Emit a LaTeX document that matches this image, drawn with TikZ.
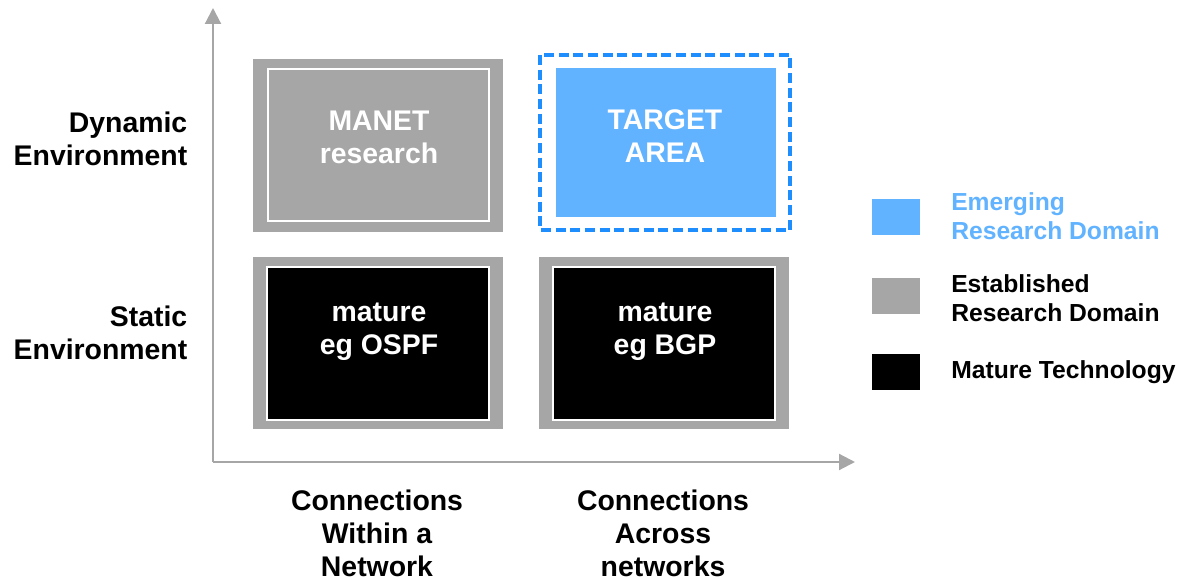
\documentclass[tikz,border=0pt]{standalone}
\usepackage{fontspec}
\setmainfont{Liberation Sans}
\usetikzlibrary{arrows.meta}
\definecolor{axisgray}{HTML}{A6A6A6}
\definecolor{emerge}{HTML}{61B3FF}
\definecolor{dashblue}{HTML}{1E8EFF}
\tikzset{
  axisline/.style={draw=axisgray, line width=1.6pt, -{Triangle[length=12pt, width=12pt]}},
  cellframe/.style={fill=axisgray, draw=none},
  cellinner/.style={draw=white, line width=1.4pt},
  celltext/.style={text=white, font=\bfseries\fontsize{21.3}{24.75}\selectfont, align=center},
  axistext/.style={text=black, font=\bfseries\fontsize{21.3}{24.75}\selectfont},
  legtext/.style={font=\bfseries\fontsize{18.5}{21.8}\selectfont, align=left, anchor=west, inner sep=0pt},
  swatch/.style={draw=none, minimum width=36pt, minimum height=27pt, inner sep=0pt}
}
\begin{document}
\begin{tikzpicture}[x=0.75pt, y=-0.75pt]
\useasboundingbox (0,0) rectangle (1182,580);

% axes
\coordinate (origin) at (213,462);
\coordinate (ytip) at (213,8);
\coordinate (xtip) at (855,462);
\draw[axisline] (origin) -- (ytip);
\draw[axisline] (origin) -- (xtip);

% MANET research cell
\fill[cellframe] (253,59) rectangle (503,232);
\draw[cellinner] (268,69) rectangle (489,221);
\node[celltext] (manet) at (379,137) {MANET\\research};

% target area cell
\draw[dashblue, line width=2.4pt, dash pattern=on 7.5pt off 3.5pt] (540,55) rectangle (790,230);
\fill[emerge] (556,68) rectangle (776,217);
\node[celltext] (target) at (665,136) {TARGET\\AREA};

% OSPF cell
\fill[cellframe] (253,257) rectangle (503,429);
\fill[black] (267,267) rectangle (489,420);
\draw[cellinner] (267,267) rectangle (489,420);
\node[celltext] (ospf) at (379,332) {mature\\eg OSPF};

% BGP cell
\fill[cellframe] (539,257) rectangle (789,429);
\fill[black] (553,267) rectangle (775,420);
\draw[cellinner] (553,267) rectangle (775,420);
\node[celltext] (bgp) at (665,332) {mature\\eg BGP};

% row labels
\node[axistext, align=right, anchor=east] (dyn) at (192,139) {Dynamic\\Environment};
\node[axistext, align=right, anchor=east] (stat) at (192,333) {Static\\Environment};

% column labels
\node[axistext, align=center] (within) at (377,533) {Connections\\Within a\\Network};
\node[axistext, align=center] (across) at (663,533) {Connections\\Across\\networks};

% legend
\node[swatch, fill=emerge] (sw1) at (896,217) {};
\node[swatch, fill=axisgray] (sw2) at (896,296) {};
\node[swatch, fill=black] (sw3) at (896,372) {};
\node[legtext, text=emerge] (l1) at (951,216) {Emerging\\Research Domain};
\node[legtext] (l2) at (951,298) {Established\\Research Domain};
\node[legtext] (l3) at (951,372) {Mature Technology};
\end{tikzpicture}
\end{document}
